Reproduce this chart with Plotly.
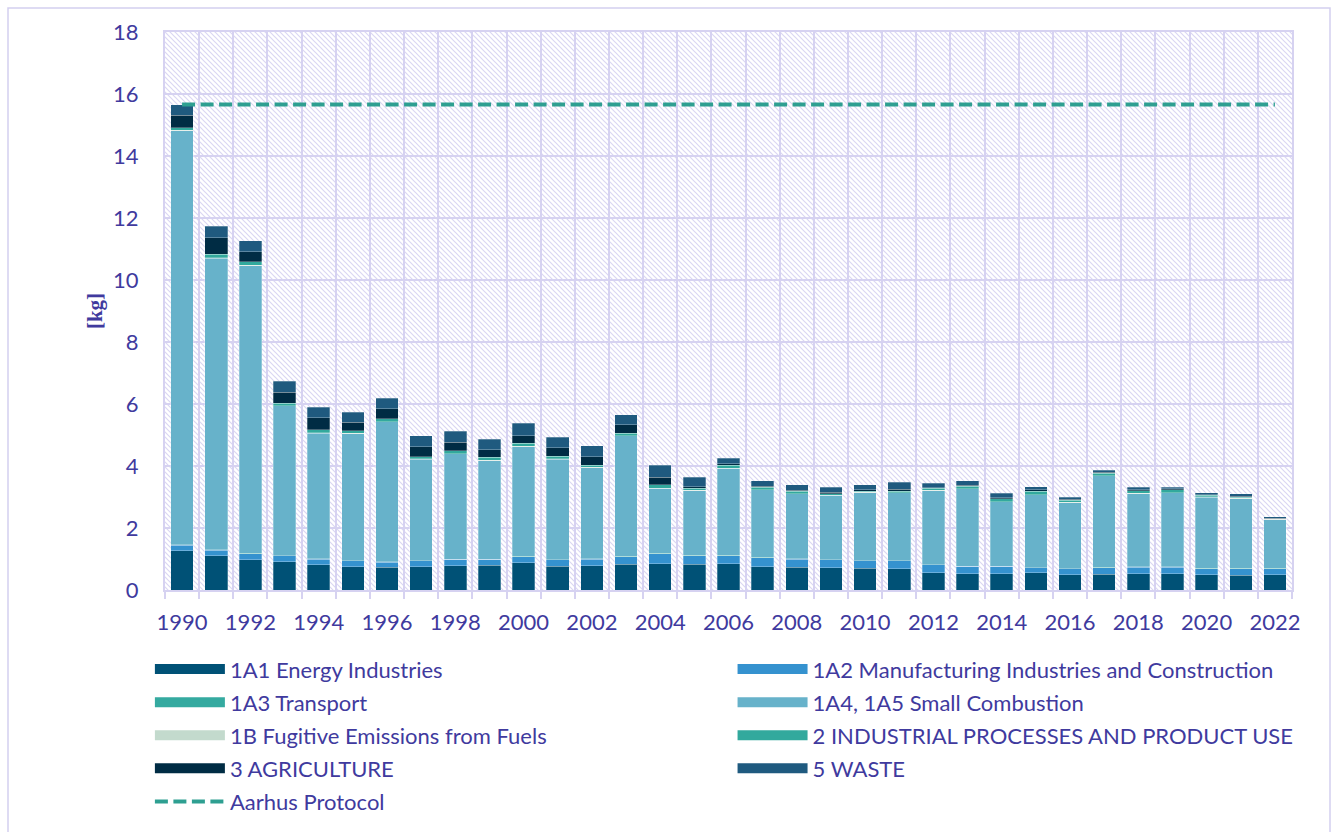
import base64
import plotly.graph_objects as go

years = list(range(1990, 2023))

e_1A1 = [1.27, 1.11, 0.98, 0.91, 0.82, 0.75, 0.73, 0.75, 0.79, 0.80, 0.88, 0.76, 0.78, 0.83, 0.85, 0.83, 0.84,
         0.75, 0.73, 0.72, 0.70, 0.69, 0.56, 0.53, 0.53, 0.55, 0.49, 0.51, 0.53, 0.53, 0.49, 0.47, 0.49]
e_1A2 = [0.18, 0.18, 0.19, 0.19, 0.18, 0.19, 0.17, 0.19, 0.20, 0.19, 0.20, 0.21, 0.22, 0.25, 0.32, 0.28, 0.27,
         0.29, 0.27, 0.25, 0.24, 0.25, 0.25, 0.23, 0.23, 0.16, 0.19, 0.21, 0.21, 0.21, 0.20, 0.22, 0.20]
e_1A3 = [0.01] * 33
e_1A4 = [13.36, 9.40, 9.28, 4.83, 4.05, 4.09, 4.51, 3.27, 3.39, 3.17, 3.53, 3.24, 2.94, 3.88, 2.10, 2.08, 2.80,
         2.18, 2.09, 2.07, 2.19, 2.18, 2.38, 2.49, 2.07, 2.35, 2.13, 2.95, 2.36, 2.38, 2.30, 2.25, 1.57]
e_1B = [0.01] * 33
e_2 = [0.08, 0.12, 0.12, 0.08, 0.10, 0.08, 0.09, 0.07, 0.09, 0.10, 0.10, 0.08, 0.07, 0.08, 0.10, 0.08, 0.10,
       0.08, 0.07, 0.05, 0.04, 0.05, 0.07, 0.07, 0.10, 0.10, 0.06, 0.07, 0.08, 0.09, 0.04, 0.04, 0.02]
e_3 = [0.40, 0.54, 0.32, 0.35, 0.39, 0.28, 0.32, 0.32, 0.28, 0.25, 0.24, 0.28, 0.27, 0.27, 0.25, 0.04, 0.05,
       0.03, 0.04, 0.05, 0.04, 0.06, 0.02, 0.04, 0.03, 0.05, 0.04, 0.04, 0.03, 0.03, 0.02, 0.03, 0.02]
e_5 = [0.34, 0.36, 0.35, 0.36, 0.34, 0.33, 0.35, 0.36, 0.35, 0.34, 0.41, 0.33, 0.35, 0.32, 0.38, 0.30, 0.17,
       0.18, 0.18, 0.15, 0.16, 0.22, 0.15, 0.14, 0.14, 0.10, 0.07, 0.07, 0.08, 0.06, 0.07, 0.07, 0.05]
aarhus = [15.66] * 33

x_ticks = list(range(1990, 2023, 2))

series = [
    ("1A1 Energy Industries", e_1A1, "#005176", "legend"),
    ("1A2 Manufacturing Industries and Construction", e_1A2, "#3592CF", "legend2"),
    ("1A3 Transport", e_1A3, "#35AAA0", "legend"),
    ("1A4, 1A5 Small Combustion", e_1A4, "#67B2CA", "legend2"),
    ("1B Fugitive Emissions from Fuels", e_1B, "#C3DACD", "legend"),
    ("2 INDUSTRIAL PROCESSES AND PRODUCT USE", e_2, "#32A99D", "legend2"),
    ("3 AGRICULTURE", e_3, "#002C44", "legend"),
    ("5 WASTE", e_5, "#1F5A7F", "legend2"),
]

TXT = "#403A9E"
GRID = "#D6D2F1"
FONT = "Lato"
FS = 22

fig = go.Figure()
for name, vals, color, lg in series:
    fig.add_trace(go.Bar(
        x=years, y=vals, name=name, width=0.66,
        marker=dict(color=color, line=dict(width=0.6, color="rgba(255,255,255,0.45)")),
        showlegend=False, legendgroup=name,
    ))

# legend entries (wide rectangles like the original)
for name, vals, color, lg in series:
    fig.add_trace(go.Scatter(
        x=[None], y=[None], mode="lines", name=name, legend=lg, legendgroup=name,
        line=dict(color=color, width=14),
    ))

fig.add_trace(go.Scatter(
    x=years, y=aarhus, mode="lines", name="Aarhus Protocol", legend="legend",
    legendgroup="aarhus", line=dict(color="#2E9F91", width=4, dash="13px,5.5px"),
))

# hatched plot background
W, H = 1127, 558
svg = (f'<svg xmlns="http://www.w3.org/2000/svg" width="{W}" height="{H}">'
       '<defs><pattern id="p" width="5" height="5" patternUnits="userSpaceOnUse">'
       '<path d="M0,0L5,5M-1,4L1,6M4,-1L6,1" stroke="#DAD6F3" stroke-width="1.2"/>'
       '</pattern></defs><rect width="100%" height="100%" fill="url(#p)"/></svg>')
src = "data:image/svg+xml;base64," + base64.b64encode(svg.encode()).decode()
fig.add_layout_image(dict(source=src, xref="paper", yref="paper", x=0, y=1, sizex=1, sizey=1,
                          xanchor="left", yanchor="top", sizing="stretch", layer="below"))

# outer frame of the chart area
fig.add_shape(type="rect", xref="paper", yref="paper",
              x0=(8 - 165) / 1127, x1=(1330 - 165) / 1127,
              y0=(590 - 900) / 558, y1=(590 - 8) / 558,
              line=dict(color="#D3CFF0", width=1.5), fillcolor="rgba(0,0,0,0)", layer="below")

legend_common = dict(
    orientation="v", xanchor="left", yanchor="top", bgcolor="rgba(0,0,0,0)",
    font=dict(family=FONT, size=FS, color=TXT), tracegroupgap=1.5, itemwidth=70,
    itemclick=False, itemdoubleclick=False,
)

fig.update_layout(
    width=1331, height=832,
    margin=dict(l=165, r=39, t=32, b=242, autoexpand=False),
    paper_bgcolor="white", plot_bgcolor="rgba(0,0,0,0)",
    barmode="stack", bargap=0.34,
    font=dict(family=FONT, size=FS, color=TXT),
    showlegend=True,
    legend=dict(x=-0.0134, y=-0.1044, **legend_common),
    legend2=dict(x=0.5036, y=-0.1044, **legend_common),
    xaxis=dict(
        range=[1989.5, 2022.5], tickmode="array", tickvals=x_ticks, ticktext=[str(v) for v in x_ticks],
        showgrid=False, zeroline=False, ticks="outside", ticklen=12, tickcolor="rgba(0,0,0,0)",
        tickfont=dict(family=FONT, size=FS, color=TXT),
        showline=True, linecolor=GRID, linewidth=2, mirror=True,
        minor=dict(tick0=1989.5, dtick=1, showgrid=True, gridcolor=GRID, gridwidth=2,
                   ticks="outside", ticklen=7, tickcolor=GRID, tickwidth=1.5),
    ),
    yaxis=dict(
        range=[0, 18], dtick=2, showgrid=True, gridcolor=GRID, gridwidth=2, zeroline=False,
        ticks="outside", ticklen=20, tickcolor="rgba(0,0,0,0)",
        tickfont=dict(family=FONT, size=FS, color=TXT),
        showline=True, linecolor=GRID, linewidth=2, mirror=True,
        title=dict(text="<b>[kg]</b>", standoff=5,
                   font=dict(family="Liberation Serif", size=21, color=TXT)),
    ),
)

fig.write_html("out.html", config={"displayModeBar": False},
               post_script="document.body.style.margin='0';")
